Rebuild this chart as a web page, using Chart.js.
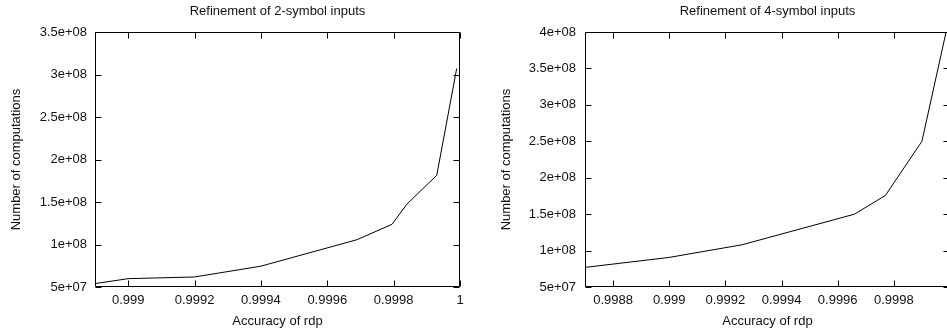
<!DOCTYPE html>
<html>
<head>
<meta charset="utf-8">
<script src="https://cdn.jsdelivr.net/npm/chart.js@4.4.1/dist/chart.umd.min.js"></script>
<style>
  html, body { margin: 0; padding: 0; background: #fff; overflow: hidden; width: 947px; height: 333px; }
  #wrap { position: relative; width: 947px; height: 333px; overflow: hidden; }
  canvas { position: absolute; top: 0; }
  #c1 { left: 0; }
  #c2 { left: 475px; }
</style>
</head>
<body>
<div id="wrap">
  <canvas id="c1" width="470" height="333"></canvas>
  <canvas id="c2" width="485" height="333"></canvas>
</div>
<script>
// ---- Data: left chart (2-symbol inputs) ----
const accuracy2 = [0.99890, 0.99900, 0.99920, 0.99940, 0.99969, 0.999795, 0.99984, 0.99993, 0.99999];
const computations2 = [5.4e7, 5.98e7, 6.18e7, 7.45e7, 1.057e8, 1.237e8, 1.475e8, 1.815e8, 3.07e8];
const xTicks2 = [0.999, 0.9992, 0.9994, 0.9996, 0.9998, 1];
const xTickLabels2 = ["0.999", "0.9992", "0.9994", "0.9996", "0.9998", "1"];
const yTicks2 = [5e7, 1e8, 1.5e8, 2e8, 2.5e8, 3e8, 3.5e8];
const yTickLabels2 = ["5e+07", "1e+08", "1.5e+08", "2e+08", "2.5e+08", "3e+08", "3.5e+08"];

// ---- Data: right chart (4-symbol inputs) ----
const accuracy4 = [0.99870, 0.99900, 0.99926, 0.99966, 0.99977, 0.99990, 0.99999];
const computations4 = [7.69e7, 9.06e7, 1.08e8, 1.50e8, 1.757e8, 2.50e8, 4.07e8];
const xTicks4 = [0.9988, 0.999, 0.9992, 0.9994, 0.9996, 0.9998, 1];
const xTickLabels4 = ["0.9988", "0.999", "0.9992", "0.9994", "0.9996", "0.9998", "1"];
const yTicks4 = [5e7, 1e8, 1.5e8, 2e8, 2.5e8, 3e8, 3.5e8, 4e8];
const yTickLabels4 = ["5e+07", "1e+08", "1.5e+08", "2e+08", "2.5e+08", "3e+08", "3.5e+08", "4e+08"];

const FONT = { family: '"Liberation Sans", Arial, Helvetica, sans-serif', size: 13 };
const TEXT = '#111';

const framePlugin = {
  id: 'frameTicks',
  afterDatasetsDraw(chart) {
    const { ctx, chartArea: a, scales } = chart;
    const L = 6;
    ctx.save();
    ctx.strokeStyle = '#000';
    ctx.lineWidth = 1;
    ctx.beginPath();
    const l = Math.round(a.left) + 0.5, r = Math.round(a.right) - 0.5;
    const t = Math.round(a.top) + 0.5, b = Math.round(a.bottom) - 0.5;
    ctx.rect(l, t, r - l, b - t);
    scales.x.ticks.forEach(tk => {
      const px = Math.round(scales.x.getPixelForValue(tk.value)) + 0.5;
      ctx.moveTo(px, b); ctx.lineTo(px, b - L);
      ctx.moveTo(px, t); ctx.lineTo(px, t + L);
    });
    scales.y.ticks.forEach(tk => {
      const py = Math.round(scales.y.getPixelForValue(tk.value)) + 0.5;
      ctx.moveTo(l, py); ctx.lineTo(l + L, py);
      ctx.moveTo(r, py); ctx.lineTo(r - L, py);
    });
    ctx.stroke();
    ctx.restore();
  }
};

function makeChart(id, title, xs, ys, xMin, xMax, yMin, yMax, xT, xTL, yT, yTL, yWidth, yLabelPad, yTitlePad) {
  const pts = xs.map((x, i) => ({ x: x, y: ys[i] }));
  return new Chart(document.getElementById(id), {
    type: 'scatter',
    data: {
      datasets: [{
        data: pts,
        showLine: true,
        borderColor: '#000',
        borderWidth: 1,
        pointRadius: 0,
        pointHoverRadius: 0,
        tension: 0,
        fill: false
      }]
    },
    plugins: [framePlugin],
    options: {
      responsive: false,
      animation: false,
      events: [],
      layout: { padding: { left: 0, right: 10, top: 0, bottom: 0 } },
      plugins: {
        legend: { display: false },
        tooltip: { enabled: false },
        title: {
          display: true,
          text: title,
          fullSize: false,
          color: TEXT,
          font: { ...FONT, weight: 'normal' },
          padding: { top: 4, bottom: 12.4 }
        }
      },
      scales: {
        x: {
          type: 'linear',
          min: xMin, max: xMax,
          grid: { display: false, drawTicks: false },
          border: { display: false },
          afterBuildTicks: s => { s.ticks = xT.map(v => ({ value: v })); },
          afterFit: s => { s.height = 46; },
          ticks: {
            color: TEXT, font: FONT, padding: 6,
            autoSkip: false, maxRotation: 0, minRotation: 0,
            callback: (v, i) => xTL[i]
          },
          title: {
            display: true, text: 'Accuracy of rdp', color: TEXT, font: FONT,
            padding: { top: 0, bottom: 4 }
          }
        },
        y: {
          type: 'linear',
          min: yMin, max: yMax,
          grid: { display: false, drawTicks: false },
          border: { display: false },
          afterBuildTicks: s => { s.ticks = yT.map(v => ({ value: v })); },
          afterFit: s => { s.width = yWidth; },
          ticks: {
            color: TEXT, font: FONT, padding: yLabelPad,
            autoSkip: false,
            callback: (v, i) => yTL[i]
          },
          title: {
            display: true, text: 'Number of computations', color: TEXT, font: FONT,
            padding: { top: yTitlePad, bottom: 0 }
          }
        }
      }
    }
  });
}

makeChart('c1', 'Refinement of 2-symbol inputs', accuracy2, computations2,
  0.9989, 1.0, 5e7, 3.5e8, xTicks2, xTickLabels2, yTicks2, yTickLabels2, 95, 8, 9);
makeChart('c2', 'Refinement of 4-symbol inputs', accuracy4, computations4,
  0.9987, 1.0, 5e7, 4e8, xTicks4, xTickLabels4, yTicks4, yTickLabels4, 110, 9, 24);
</script>
</body>
</html>
